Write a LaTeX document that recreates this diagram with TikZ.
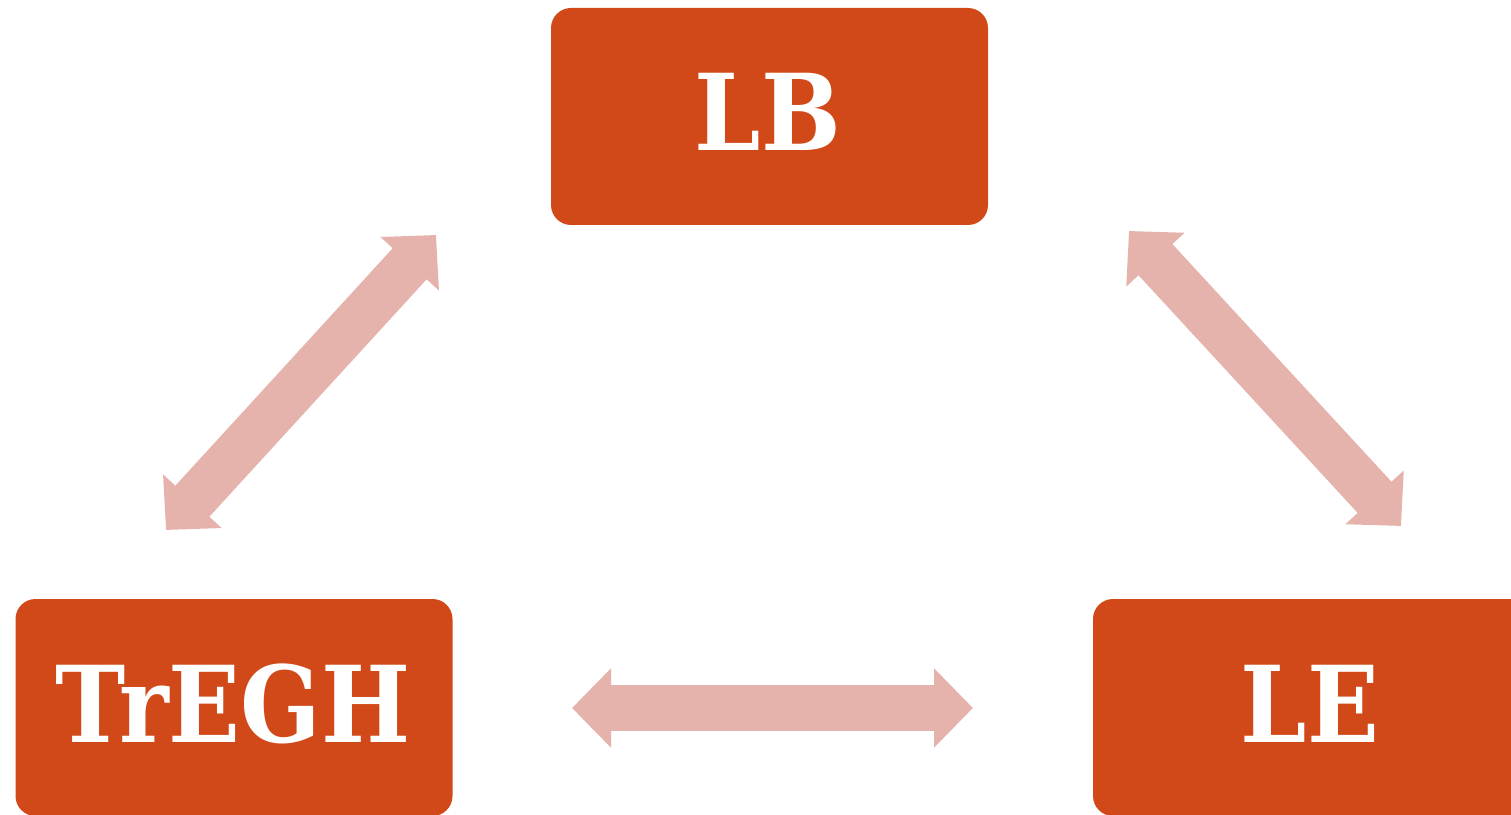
\documentclass[tikz,border=0pt]{standalone}
\usepackage{fontspec}
\newfontfamily\boxfont{DejaVu Serif Bold}[FakeStretch=0.89]
\usetikzlibrary{arrows.meta}
\definecolor{boxred}{RGB}{209,73,25}
\definecolor{arrowpink}{RGB}{229,178,172}
\tikzset{
  box/.style={rectangle, rounded corners=20pt, fill=boxred, draw=none,
    minimum width=437pt, minimum height=217pt, inner sep=0pt},
  boxtext/.style={text=white, inner sep=0pt, anchor=base,
    font=\fontsize{106}{120}\boxfont},
  biarrow/.style={draw=arrowpink, line width=46pt,
    {Triangle[length=39pt,width=77pt]}-{Triangle[length=39pt,width=77pt]}}
}
\begin{document}
\begin{tikzpicture}[x=1pt,y=1pt]
\useasboundingbox (0,0) rectangle (1511,814);
\node[box] (lb) at (769.5,697.5) {};
\node[box] (tr) at (234,106.5) {};
\node[box] (le) at (1311.5,106.5) {};
\node[boxtext] (lbt) at (768,663) {LB};
\node[boxtext] (trt) at (233,72) {TrEGH};
\node[boxtext] (let) at (1310,72) {LE};
\coordinate (a1) at (166,284);
\coordinate (a2) at (436,579);
\coordinate (b1) at (1129,583);
\coordinate (b2) at (1401,288);
\coordinate (c1) at (572,106);
\coordinate (c2) at (973,106);
\draw[biarrow] (a1) -- (a2);
\draw[biarrow] (b1) -- (b2);
\draw[biarrow] (c1) -- (c2);
\end{tikzpicture}
\end{document}
